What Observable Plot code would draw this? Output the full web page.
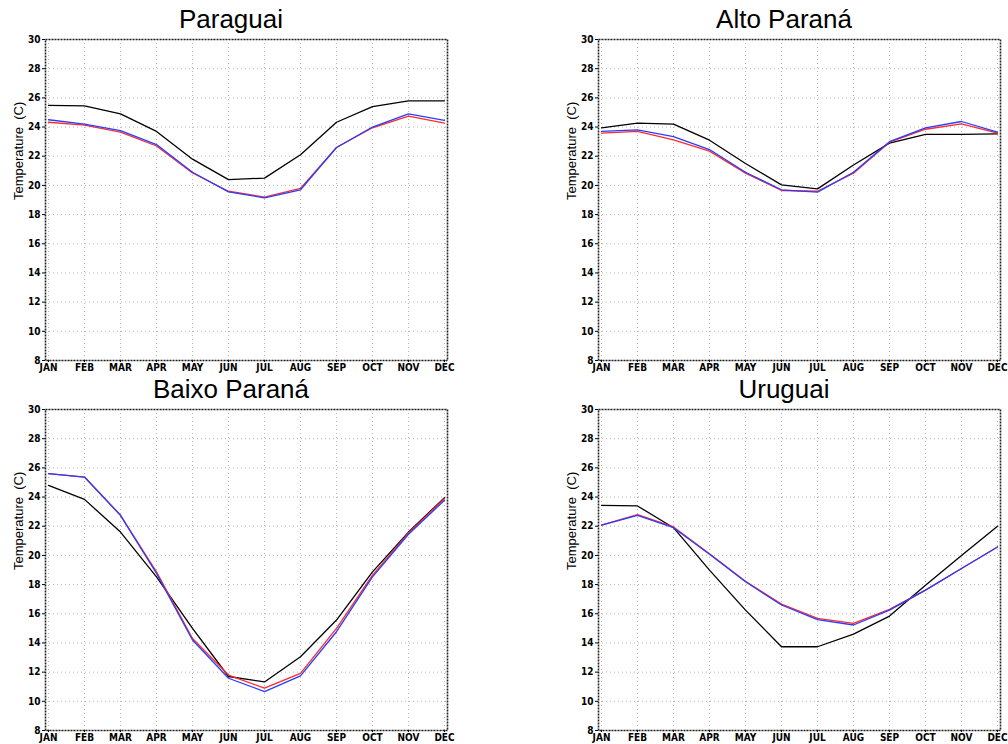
<!DOCTYPE html>
<html>
<head>
<meta charset="utf-8">
<script src="https://cdn.jsdelivr.net/npm/d3@7"></script>
<script src="https://cdn.jsdelivr.net/npm/@observablehq/plot@0.6"></script>
<style>
  html, body { margin: 0; padding: 0; background: white; }
  #root { position: relative; width: 1008px; height: 744px; overflow: hidden; background: white; }
  .panel { position: absolute; }
  .title { position: absolute; width: 300px; text-align: center; font-family: "Liberation Sans", Arial, sans-serif; font-size: 26px; line-height: 26px; color: #000; white-space: nowrap; }
  .panel svg { position: absolute; left: 0; top: 0; }
</style>
</head>
<body>
<div id="root"></div>
<script>
const months = ["JAN","FEB","MAR","APR","MAY","JUN","JUL","AUG","SEP","OCT","NOV","DEC"];
const yTicks = [8,10,12,14,16,18,20,22,24,26,28,30];
const yLabel = "Temperature  (C)";

const titles = ["Paraguai", "Alto Paraná", "Baixo Paraná", "Uruguai"];

// Paraguai
const paraguaiBlack = [25.48, 25.45, 24.9, 23.7, 21.8, 20.4, 20.5, 22.1, 24.33, 25.4, 25.8, 25.8];
const paraguaiRed   = [24.33, 24.13, 23.65, 22.7, 20.85, 19.6, 19.2, 19.8, 22.6, 23.95, 24.75, 24.27];
const paraguaiBlue  = [24.5, 24.2, 23.75, 22.8, 20.9, 19.56, 19.15, 19.7, 22.6, 24.0, 24.9, 24.45];

// Alto Paraná
const altoBlack = [23.95, 24.27, 24.2, 23.1, 21.5, 20.04, 19.76, 21.4, 22.9, 23.5, 23.5, 23.53];
const altoRed   = [23.58, 23.7, 23.12, 22.35, 20.84, 19.65, 19.6, 20.84, 22.96, 23.85, 24.22, 23.58];
const altoBlue  = [23.7, 23.8, 23.35, 22.46, 20.9, 19.7, 19.54, 20.9, 23.0, 23.95, 24.38, 23.65];

// Baixo Paraná
const baixoBlack = [24.8, 23.84, 21.6, 18.53, 15.0, 11.7, 11.33, 13.06, 15.57, 18.87, 21.6, 23.96];
const baixoRed   = [25.6, 25.37, 22.75, 18.87, 14.3, 11.8, 10.9, 11.92, 15.0, 18.65, 21.54, 23.9];
const baixoBlue  = [25.6, 25.37, 22.75, 18.76, 14.2, 11.58, 10.67, 11.74, 14.77, 18.53, 21.45, 23.78];

// Uruguai
const uruguaiBlack = [23.43, 23.39, 21.9, 18.99, 16.25, 13.74, 13.74, 14.6, 15.84, 17.96, 20.0, 22.0];
const uruguaiRed   = [22.07, 22.8, 21.95, 20.12, 18.23, 16.66, 15.68, 15.34, 16.3, 17.62, 19.1, 20.58];
const uruguaiBlue  = [22.07, 22.75, 21.9, 20.08, 18.19, 16.6, 15.6, 15.23, 16.25, 17.62, 19.1, 20.58];

const seriesColors = { black: "#000000", red: "#ff2a2a", blue: "#2a3cff" };

function rows(values) {
  return months.map((m, i) => ({ month: m, temp: values[i] }));
}

function panel(title, black, red, blue, left, top, width) {
  const div = document.createElement("div");
  div.className = "panel";
  div.style.left = left + "px";
  div.style.top = top + "px";
  div.style.width = width + "px";
  div.style.height = "374px";

  const chart = Plot.plot({
    width: width,
    height: 374,
    marginLeft: 45,
    marginRight: width - 447,
    marginTop: 39,
    marginBottom: 14,
    style: { fontFamily: "'DejaVu Sans Condensed', 'DejaVu Sans', sans-serif", fontWeight: "bold", fontSize: "10px", background: "transparent", overflow: "visible", color: "#000" },
    x: { type: "point", domain: months, padding: 0, label: null },
    y: { domain: [8, 30], label: null },
    marks: [
      Plot.gridX(months, { stroke: "#b8b8b8", strokeOpacity: 1, strokeDasharray: "1,3" }),
      Plot.gridY(yTicks, { stroke: "#b8b8b8", strokeOpacity: 1, strokeDasharray: "1,3" }),
      Plot.axisX(months, { tickSize: 2, tickPadding: 1, fontSize: 10, fontWeight: "bold" }),
      Plot.axisY(yTicks, { tickSize: 3, tickPadding: 2, fontSize: 10, fontWeight: "bold" }),
      Plot.line(rows(black), { x: "month", y: "temp", stroke: seriesColors.black, strokeWidth: 1.3 }),
      Plot.line(rows(red), { x: "month", y: "temp", stroke: seriesColors.red, strokeWidth: 1.3 }),
      Plot.line(rows(blue), { x: "month", y: "temp", stroke: seriesColors.blue, strokeWidth: 1.3 }),
      Plot.frame({ stroke: "#222", strokeWidth: 1.6, strokeDasharray: "2,1" }),
      Plot.text([yLabel], { text: d => d, frameAnchor: "left", rotate: -90, dx: -27, fontFamily: "'Liberation Sans', Arial, sans-serif", fontSize: 13, fontWeight: "normal", fill: "#000" })
    ]
  });
  div.appendChild(chart);

  const t = document.createElement("div");
  t.className = "title";
  t.textContent = title;
  t.style.left = (231 - 150) + "px";
  t.style.top = "6px";
  div.appendChild(t);

  document.getElementById("root").appendChild(div);
}

panel(titles[0], paraguaiBlack, paraguaiRed, paraguaiBlue, 0, 0, 504);
panel(titles[1], altoBlack, altoRed, altoBlue, 553, 0, 455);
panel(titles[2], baixoBlack, baixoRed, baixoBlue, 0, 370, 504);
panel(titles[3], uruguaiBlack, uruguaiRed, uruguaiBlue, 553, 370, 455);
</script>
</body>
</html>
